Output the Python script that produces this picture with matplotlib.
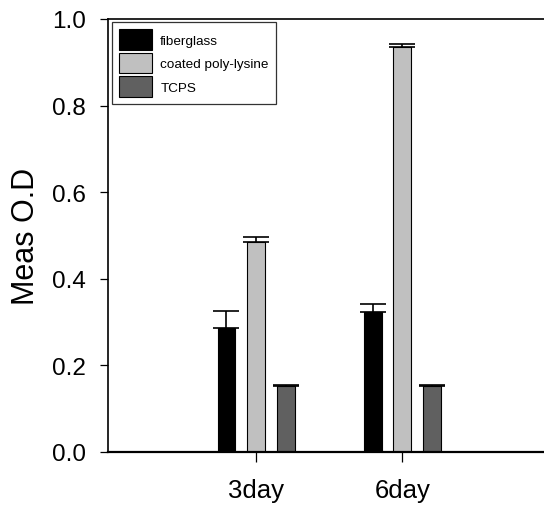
import matplotlib.pyplot as plt
import numpy as np

plt.rcParams['font.family'] = ['Liberation Sans', 'DejaVu Sans']

# data
days = ['3day', '6day']
materials = ['fiberglass', 'coated poly-lysine', 'TCPS']
means = {
    'fiberglass': [0.286, 0.324],
    'coated poly-lysine': [0.485, 0.936],
    'TCPS': [0.153, 0.153],
}
errors = {
    'fiberglass': [0.039, 0.018],
    'coated poly-lysine': [0.012, 0.007],
    'TCPS': [0.002, 0.002],
}
colors = ['#000000', '#c0c0c0', '#606060']

fig = plt.figure(figsize=(5.44, 5.06), dpi=100)
ax = fig.add_axes([108 / 544, 53 / 506, 1 - 108 / 544, 433 / 506])

x = np.arange(len(days))
width = 0.123
offset = 0.203
for i, (name, col) in enumerate(zip(materials, colors)):
    pos = x + (i - 1) * offset
    ax.bar(pos, means[name], width, color=col, edgecolor='black',
           linewidth=0.8, label=name, zorder=2)
    ax.errorbar(pos, means[name], yerr=[np.zeros(len(days)), errors[name]],
                fmt='none', ecolor='black', elinewidth=1.2, capsize=9.5,
                capthick=1.2, zorder=3)

ax.set_xlim(-1.014, 1.97)
ax.set_ylim(0, 1.0)
ax.set_xticks(x)
ax.set_xticklabels(days)
ax.set_yticks(np.arange(0, 1.01, 0.2))
ax.set_yticklabels(['%.1f' % v for v in np.arange(0, 1.01, 0.2)])
ax.tick_params(axis='both', direction='out', width=0.9)
ax.tick_params(axis='y', labelsize=17.5, length=6, pad=10)
ax.tick_params(axis='x', labelsize=18.5, length=7.5, pad=11)
ax.set_ylabel('Meas O.D', fontsize=22, labelpad=8)

for s in ['top', 'bottom', 'left']:
    ax.spines[s].set_linewidth(1.2)
ax.spines['bottom'].set_linewidth(1.6)
ax.spines['right'].set_visible(False)

leg = ax.legend(loc='upper left', bbox_to_anchor=(111.7 / 544, 1 - 22.7 / 506),
                bbox_transform=fig.transFigure, borderaxespad=0, fontsize=9.7,
                frameon=True, fancybox=False, handlelength=2.45, handleheight=2.0,
                labelspacing=0.2, handletextpad=0.6, borderpad=0.55)
leg.get_frame().set_edgecolor('black')
leg.get_frame().set_linewidth(0.9)

fig.savefig('out.png', dpi=100)
